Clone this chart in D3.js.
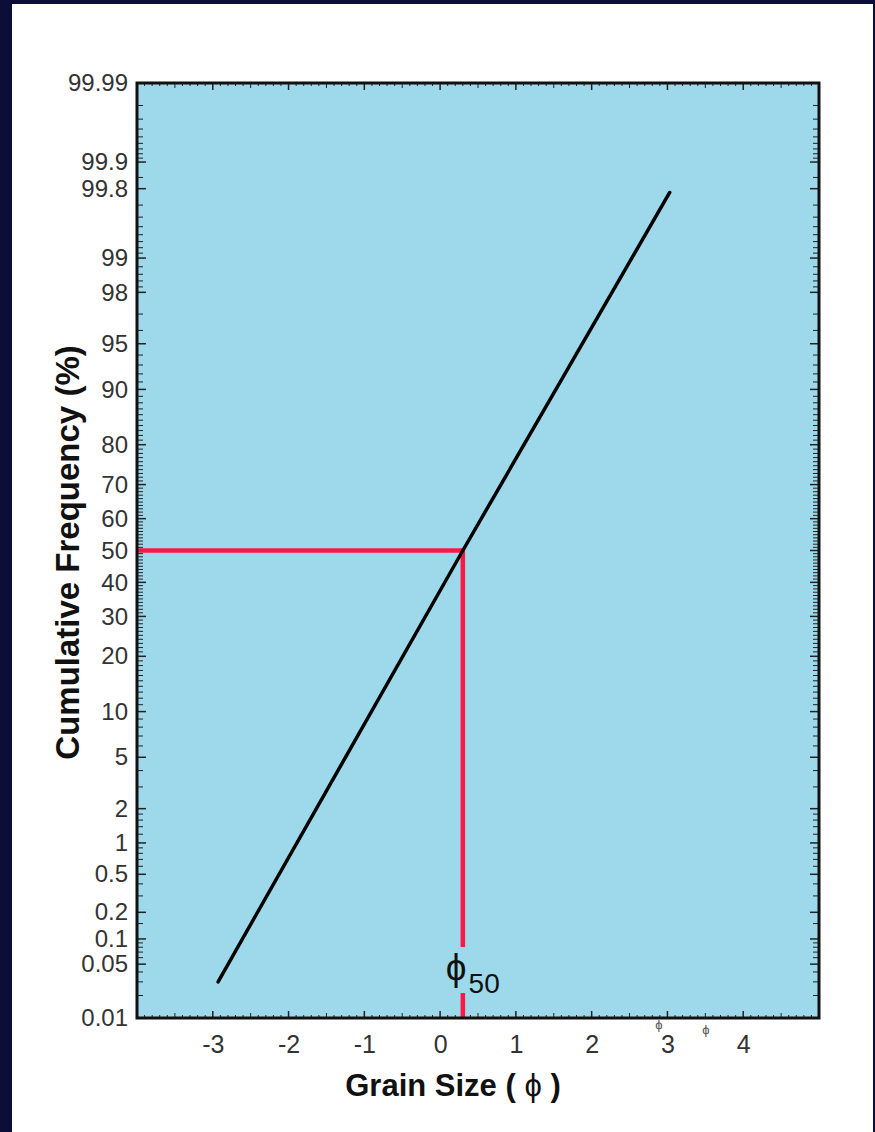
<!DOCTYPE html>
<html>
<head>
<meta charset="utf-8">
<script src="https://cdn.jsdelivr.net/npm/d3@7"></script>
<style>
  html, body { margin: 0; padding: 0; background: #0d0e38; }
  svg { display: block; }
  text { font-family: "Liberation Sans", Arial, Helvetica, sans-serif; }
</style>
</head>
<body>
<svg id="chart" width="875" height="1132"></svg>
<script>
// ---------------- data ----------------
const yMajorTicks = [0.01, 0.05, 0.1, 0.2, 0.5, 1, 2, 5, 10, 20, 30, 40, 50, 60, 70, 80, 90, 95, 98, 99, 99.8, 99.9, 99.99];
const yMajorLabels = ["0.01", "0.05", "0.1", "0.2", "0.5", "1", "2", "5", "10", "20", "30", "40", "50", "60", "70", "80", "90", "95", "98", "99", "99.8", "99.9", "99.99"];
const xMajorTicks = [-3, -2, -1, 0, 1, 2, 3, 4];
const xMajorLabels = ["-3", "-2", "-1", "0", "1", "2", "3", "4"];
const xDomain = [-4, 5];
const yDomain = [0.01, 99.99];

// cumulative curve (grain size in phi vs cumulative frequency %)
const grainSize = [-2.93, 0.3, 3.03];
const cumFreq = [0.03, 50, 99.78];

// median grain size marker
const phi50 = 0.3;
const median = 50;

// ---------------- helpers ----------------
function probit(p) {
  const a = [-3.969683028665376e+01, 2.209460984245205e+02, -2.759285104469687e+02, 1.383577518672690e+02, -3.066479806614716e+01, 2.506628277459239e+00];
  const b = [-5.447609879822406e+01, 1.615858368580409e+02, -1.556989798598866e+02, 6.680131188771972e+01, -1.328068155288572e+01];
  const c = [-7.784894002430293e-03, -3.223964580411365e-01, -2.400758310300891e+00, -2.549732539343734e+00, 4.374664141464968e+00, 2.938163982698783e+00];
  const d = [7.784695709041462e-03, 3.224671290700398e-01, 2.445134137142996e+00, 3.754408661907416e+00];
  const plow = 0.02425, phigh = 1 - plow;
  let q, r;
  if (p < plow) {
    q = Math.sqrt(-2 * Math.log(p));
    return (((((c[0]*q+c[1])*q+c[2])*q+c[3])*q+c[4])*q+c[5]) / ((((d[0]*q+d[1])*q+d[2])*q+d[3])*q+1);
  } else if (p <= phigh) {
    q = p - 0.5; r = q*q;
    return (((((a[0]*r+a[1])*r+a[2])*r+a[3])*r+a[4])*r+a[5])*q / (((((b[0]*r+b[1])*r+b[2])*r+b[3])*r+b[4])*r+1);
  } else {
    q = Math.sqrt(-2 * Math.log(1 - p));
    return -(((((c[0]*q+c[1])*q+c[2])*q+c[3])*q+c[4])*q+c[5]) / ((((d[0]*q+d[1])*q+d[2])*q+d[3])*q+1);
  }
}

// minor ticks (probability paper style)
const yMinorTicks = [].concat(
  [0.02, 0.03, 0.04, 0.06, 0.07, 0.08, 0.09, 0.15, 0.3, 0.4, 0.6, 0.7, 0.8, 0.9],
  [1.2, 1.4, 1.6, 1.8, 3, 4, 6, 7, 8, 9],
  d3.range(11, 90).filter(v => v % 10 !== 0),
  [91, 92, 93, 94, 96, 97],
  [98.2, 98.4, 98.6, 98.8, 99.1, 99.2, 99.3, 99.4, 99.5, 99.6, 99.7],
  [99.85, 99.91, 99.92, 99.93, 99.94, 99.95, 99.96, 99.97, 99.98]
);
const xMinorTicks = d3.range(-40, 51).map(v => v / 10).filter(v => Math.abs(v - Math.round(v)) > 1e-6);

// ---------------- layout ----------------
const svg = d3.select("#chart");
const W = 875, H = 1132;
const plot = { left: 137, right: 819, top: 83, bottom: 1018 };

const x = d3.scaleLinear().domain(xDomain).range([plot.left, plot.right]);
const yz = d3.scaleLinear().domain([probit(yDomain[0] / 100), probit(yDomain[1] / 100)]).range([plot.bottom, plot.top]);
const y = v => yz(probit(v / 100));

// slide background and white panel
svg.append("rect").attr("width", W).attr("height", H).attr("fill", "#0d0e38");
svg.append("rect").attr("x", 12).attr("y", 4).attr("width", 861).attr("height", H - 4).attr("fill", "#ffffff");

// plot area
svg.append("rect")
  .attr("x", plot.left).attr("y", plot.top)
  .attr("width", plot.right - plot.left).attr("height", plot.bottom - plot.top)
  .attr("fill", "#9dd9ea");

const tickG = svg.append("g").attr("stroke", "#222").attr("stroke-width", 1);

// y ticks, left and right, pointing inwards
function yTick(v, len, w) {
  const yy = y(v);
  tickG.append("line").attr("x1", plot.left).attr("x2", plot.left + len).attr("y1", yy).attr("y2", yy).attr("stroke-width", w);
  tickG.append("line").attr("x1", plot.right).attr("x2", plot.right - len).attr("y1", yy).attr("y2", yy).attr("stroke-width", w);
}
yMinorTicks.forEach(v => yTick(v, 6, 1));
yMajorTicks.forEach(v => yTick(v, 9, 1.5));

// x ticks, bottom and top, pointing inwards
function xTick(v, len, w) {
  const xx = x(v);
  tickG.append("line").attr("x1", xx).attr("x2", xx).attr("y1", plot.bottom).attr("y2", plot.bottom - len).attr("stroke-width", w);
  tickG.append("line").attr("x1", xx).attr("x2", xx).attr("y1", plot.top).attr("y2", plot.top + len).attr("stroke-width", w);
}
xMinorTicks.forEach(v => {
  const half = Math.abs(v * 2 - Math.round(v * 2)) < 1e-6;
  xTick(v, half ? 5 : 3, 1);
});
d3.range(-4, 6).forEach(v => xTick(v, 7, 1.5));

// axis labels via d3 axes (labels only; ticks drawn above)
const yAxis = d3.axisLeft(yz)
  .tickValues(yMajorTicks.map(v => probit(v / 100)))
  .tickFormat((d, i) => yMajorLabels[i])
  .tickSize(0).tickPadding(9);
const yAxisG = svg.append("g").attr("transform", `translate(${plot.left},0)`).call(yAxis);
yAxisG.select(".domain").remove();
yAxisG.selectAll("text").attr("font-size", 24).attr("fill", "#333").style("font-family", '"Liberation Sans", Arial, sans-serif');

const xAxis = d3.axisBottom(x)
  .tickValues(xMajorTicks)
  .tickFormat((d, i) => xMajorLabels[i])
  .tickSize(0).tickPadding(17);
const xAxisG = svg.append("g").attr("transform", `translate(0,${plot.bottom})`).call(xAxis);
xAxisG.select(".domain").remove();
xAxisG.selectAll("text").attr("font-size", 25).attr("fill", "#333").style("font-family", '"Liberation Sans", Arial, sans-serif');

// red median guide lines
const red = "#ff1744";
const gapTop = 947, gapBottom = 993;
svg.append("line")
  .attr("x1", plot.left).attr("x2", x(phi50))
  .attr("y1", y(median)).attr("y2", y(median))
  .attr("stroke", red).attr("stroke-width", 4.5);
svg.append("line")
  .attr("x1", x(phi50)).attr("x2", x(phi50))
  .attr("y1", y(median) - 2.25).attr("y2", gapTop)
  .attr("stroke", red).attr("stroke-width", 4.5);
svg.append("line")
  .attr("x1", x(phi50)).attr("x2", x(phi50))
  .attr("y1", gapBottom).attr("y2", plot.bottom)
  .attr("stroke", red).attr("stroke-width", 4.5);

// cumulative curve
const pts = grainSize.map((g, i) => [g, cumFreq[i]]);
svg.append("path")
  .datum(pts)
  .attr("d", d3.line().x(d => x(d[0])).y(d => y(d[1])))
  .attr("fill", "none").attr("stroke", "#000").attr("stroke-width", 3.5).attr("stroke-linecap", "round");

// phi50 label
const lab = svg.append("text").attr("x", x(phi50) - 17).attr("y", 980).attr("fill", "#111");
lab.append("tspan").attr("font-size", 37).text("\u03D5");
lab.append("tspan").attr("font-size", 28).attr("dy", 13).attr("dx", 2).text("50");

// plot border
svg.append("rect")
  .attr("x", plot.left).attr("y", plot.top)
  .attr("width", plot.right - plot.left).attr("height", plot.bottom - plot.top)
  .attr("fill", "none").attr("stroke", "#111").attr("stroke-width", 3);

// stray small phi glyphs below the axis
svg.append("text").attr("x", 659).attr("y", 1029).attr("font-size", 13).attr("fill", "#555").attr("text-anchor", "middle").text("\u03D5");
svg.append("text").attr("x", 706).attr("y", 1034).attr("font-size", 13).attr("fill", "#555").attr("text-anchor", "middle").text("\u03D5");

// axis titles
svg.append("text")
  .attr("transform", `translate(79,${(plot.top + plot.bottom) / 2 + 2}) rotate(-90)`)
  .attr("text-anchor", "middle").attr("font-size", 33).attr("font-weight", "bold").attr("fill", "#111")
  .text("Cumulative Frequency (%)");

const xt = svg.append("text")
  .attr("x", 453).attr("y", 1096)
  .attr("text-anchor", "middle").attr("font-size", 31).attr("font-weight", "bold").attr("fill", "#111");
xt.append("tspan").text("Grain Size ( ");
xt.append("tspan").attr("font-weight", "normal").text("\u03D5");
xt.append("tspan").text(" )");
</script>
</body>
</html>
